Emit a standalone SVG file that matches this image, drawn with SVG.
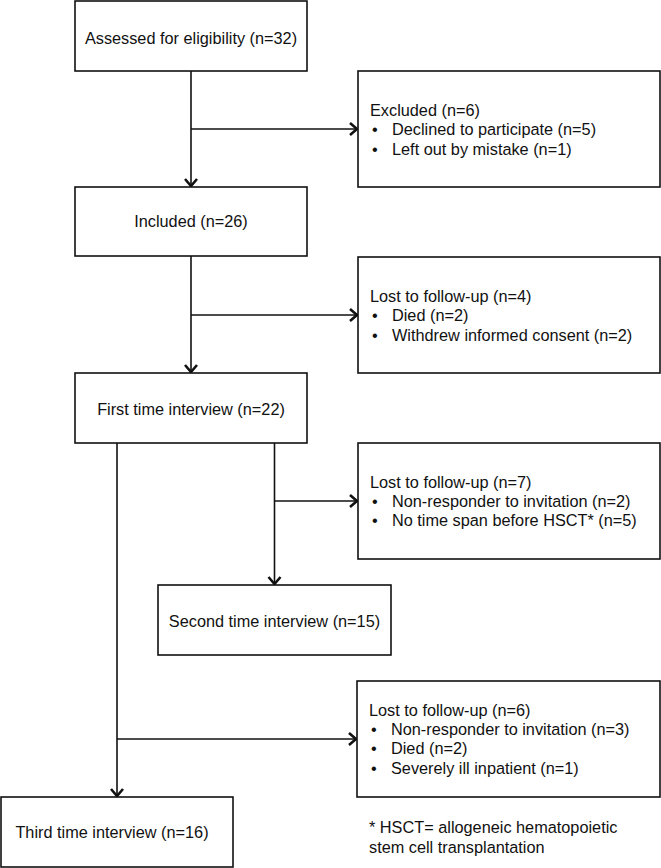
<svg xmlns="http://www.w3.org/2000/svg" width="661" height="868" viewBox="0 0 661 868">
<style>
.box{fill:#fff;stroke:#111;stroke-width:1.6}
.t{font-family:"Liberation Sans",Arial,sans-serif;font-size:16.3px;fill:#111}
.c{text-anchor:middle}
.ln{fill:none;stroke:#111;stroke-width:1.6;marker-end:url(#arr)}
</style>
<defs>
<marker id="arr" markerUnits="userSpaceOnUse" viewBox="-9 -7 11 14" refX="0" refY="0" markerWidth="11" markerHeight="14" orient="auto" overflow="visible">
<path d="M-7,-6 L0,0 L-7,6" fill="none" stroke="#111" stroke-width="2.6" stroke-linejoin="miter"/>
</marker>
</defs>
<rect width="661" height="868" fill="#fff"/>
<g id="connectors">
<path class="ln" d="M191 71 V186"/>
<path class="ln" d="M191 129 H357"/>
<path class="ln" d="M191 256 V372"/>
<path class="ln" d="M191 315 H357"/>
<path class="ln" d="M274.5 443 V584"/>
<path class="ln" d="M274.5 501 H357"/>
<path class="ln" d="M117 443 V796"/>
<path class="ln" d="M117 739 H356"/>
</g>
<g id="assessed">
<rect class="box" x="75" y="1" width="232" height="70"/>
<text class="t c" x="191" y="44">Assessed for eligibility (n=32)</text>
</g>
<g id="excluded">
<rect class="box" x="358" y="71" width="302" height="116"/>
<text class="t" x="370" y="116">Excluded (n=6)</text>
<text class="t" x="372" y="135">•</text><text class="t" x="392" y="135">Declined to participate (n=5)</text>
<text class="t" x="372" y="155">•</text><text class="t" x="392" y="155">Left out by mistake (n=1)</text>
</g>
<g id="included">
<rect class="box" x="75" y="187" width="232" height="69"/>
<text class="t c" x="191" y="227">Included (n=26)</text>
</g>
<g id="lost1">
<rect class="box" x="358" y="257" width="302" height="116"/>
<text class="t" x="370" y="302">Lost to follow-up (n=4)</text>
<text class="t" x="372" y="321">•</text><text class="t" x="392" y="321">Died (n=2)</text>
<text class="t" x="372" y="341">•</text><text class="t" x="392" y="341">Withdrew informed consent (n=2)</text>
</g>
<g id="first">
<rect class="box" x="75" y="373" width="232" height="70"/>
<text class="t c" x="191" y="415">First time interview (n=22)</text>
</g>
<g id="lost2">
<rect class="box" x="358" y="443" width="302" height="116"/>
<text class="t" x="370" y="488">Lost to follow-up (n=7)</text>
<text class="t" x="372" y="507">•</text><text class="t" x="392" y="507">Non-responder to invitation (n=2)</text>
<text class="t" x="372" y="526">•</text><text class="t" x="392" y="526">No time span before HSCT* (n=5)</text>
</g>
<g id="second">
<rect class="box" x="158" y="585" width="233" height="70"/>
<text class="t c" x="274.5" y="627">Second time interview (n=15)</text>
</g>
<g id="lost3">
<rect class="box" x="357" y="681" width="303" height="116"/>
<text class="t" x="369" y="716">Lost to follow-up (n=6)</text>
<text class="t" x="371" y="735">•</text><text class="t" x="391" y="735">Non-responder to invitation (n=3)</text>
<text class="t" x="371" y="754">•</text><text class="t" x="391" y="754">Died (n=2)</text>
<text class="t" x="371" y="774">•</text><text class="t" x="391" y="774">Severely ill inpatient (n=1)</text>
</g>
<g id="third">
<rect class="box" x="1" y="797" width="232" height="70"/>
<text class="t c" x="112" y="838">Third time interview (n=16)</text>
</g>
<g id="footnote">
<text class="t" x="369" y="833">* HSCT= allogeneic hematopoietic</text>
<text class="t" x="369" y="853">stem cell transplantation</text>
</g>
</svg>
